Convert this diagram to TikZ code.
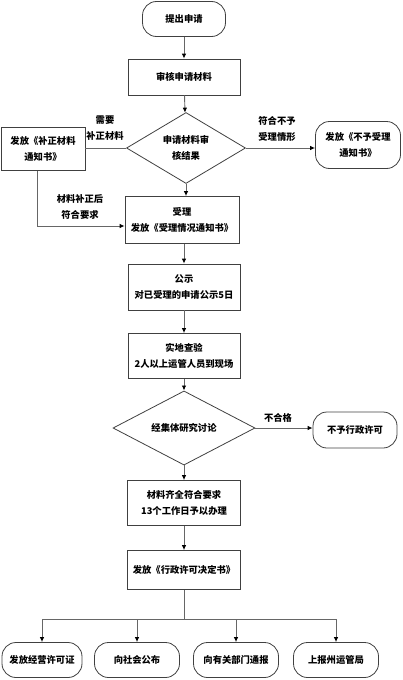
\documentclass[tikz,border=0pt]{standalone}
\usepackage{fontspec}
\newfontfamily\cjk{Noto Sans CJK SC}
\usetikzlibrary{shapes.geometric,arrows.meta}
\begin{document}
\begin{tikzpicture}[x=1pt,y=-1pt,
  every node/.style={font=\cjk\bfseries\fontsize{9.3}{15.5}\selectfont, align=center, text=black},
  proc/.style={draw=black!75, line width=0.8pt, rectangle, inner sep=0pt},
  term/.style={draw=black!75, line width=0.8pt, rectangle, rounded corners=14pt, inner sep=0pt},
  dec/.style={draw=black!75, line width=0.8pt, diamond, inner sep=0pt},
  lbl/.style={inner sep=0pt},
  conn/.style={draw=black!60, line width=0.9pt},
  arr/.style={conn, -{Latex[length=5pt,width=4.5pt,fill=black,color=black]}}]
\useasboundingbox (0,0) rectangle (402,680);
\node[term, minimum width=83pt, minimum height=35pt] (start) at (184,19) {提出申请};
\node[proc, minimum width=112pt, minimum height=36pt] (review) at (184,77) {审核申请材料};
\node[dec, minimum width=119pt, minimum height=60pt] (d1) at (186,148) {申请材料审\\核结果};
\node[proc, minimum width=84pt, minimum height=43pt] (fix) at (43,149) {发放《补正材料\\通知书》};
\node[term, minimum width=85pt, minimum height=47pt] (reject) at (358,145) {发放《不予受理\\通知书》};
\node[proc, minimum width=114pt, minimum height=47pt] (accept) at (182,220) {受理\\发放《受理情况通知书》};
\node[proc, minimum width=112pt, minimum height=46pt] (public) at (184,287) {公示\\对已受理的申请公示5日};
\node[proc, minimum width=112pt, minimum height=45pt] (inspect) at (184,356) {实地查验\\2人以上运管人员到现场};
\node[dec, minimum width=142pt, minimum height=55pt] (d2) at (184,428) {经集体研究讨论};
\node[term, minimum width=84pt, minimum height=36pt] (noperm) at (355,430) {不予行政许可};
\node[proc, minimum width=113pt, minimum height=45pt] (full) at (184,503) {材料齐全符合要求\\13个工作日予以办理};
\node[proc, minimum width=113pt, minimum height=39pt] (decision) at (184,570) {发放《行政许可决定书》};
\node[term, minimum width=80pt, minimum height=35pt] (b1) at (42,660) {发放经营许可证};
\node[term, minimum width=85pt, minimum height=35pt] (b2) at (137,660) {向社会公布};
\node[term, minimum width=85pt, minimum height=35pt] (b3) at (236,660) {向有关部门通报};
\node[term, minimum width=85pt, minimum height=35pt] (b4) at (336,660) {上报州运管局};
% labels
\node[lbl] (l1) at (105,128) {需要\\补正材料};
\node[lbl] (l2) at (277,129) {符合不予\\受理情形};
\node[lbl] (l3) at (80,207) {材料补正后\\符合要求};
\node[lbl] (l4) at (278,418) {不合格};
% connectors
\draw[arr] (start) -- (review);
\draw[arr] (review) -- (d1);
\draw[conn] (d1.west) -- (fix.east |- d1.west);
\draw[arr] (d1.east) -- (d1.east -| reject.west);
\draw[arr] ([xshift=-6pt]fix.south) |- ([yshift=-6pt]accept.west);
\draw[arr] (d1.south) -- (d1.south |- accept.north);
\draw[arr] (accept.south -| public.north) -- (public.north);
\draw[arr] (public) -- (inspect);
\draw[arr] (inspect) -- (d2);
\draw[arr] (d2.east) -- (d2.east -| noperm.west);
\draw[arr] (d2) -- (full);
\draw[arr] (full) -- (decision);
\coordinate (br) at (184,619);
\draw[conn] (decision.south) -- (br);
\draw[conn] (b1.north |- br) -- (b4.north |- br);
\foreach \b in {b1,b2,b3,b4} \draw[arr] (\b.north |- br) -- (\b.north);
\end{tikzpicture}
\end{document}
